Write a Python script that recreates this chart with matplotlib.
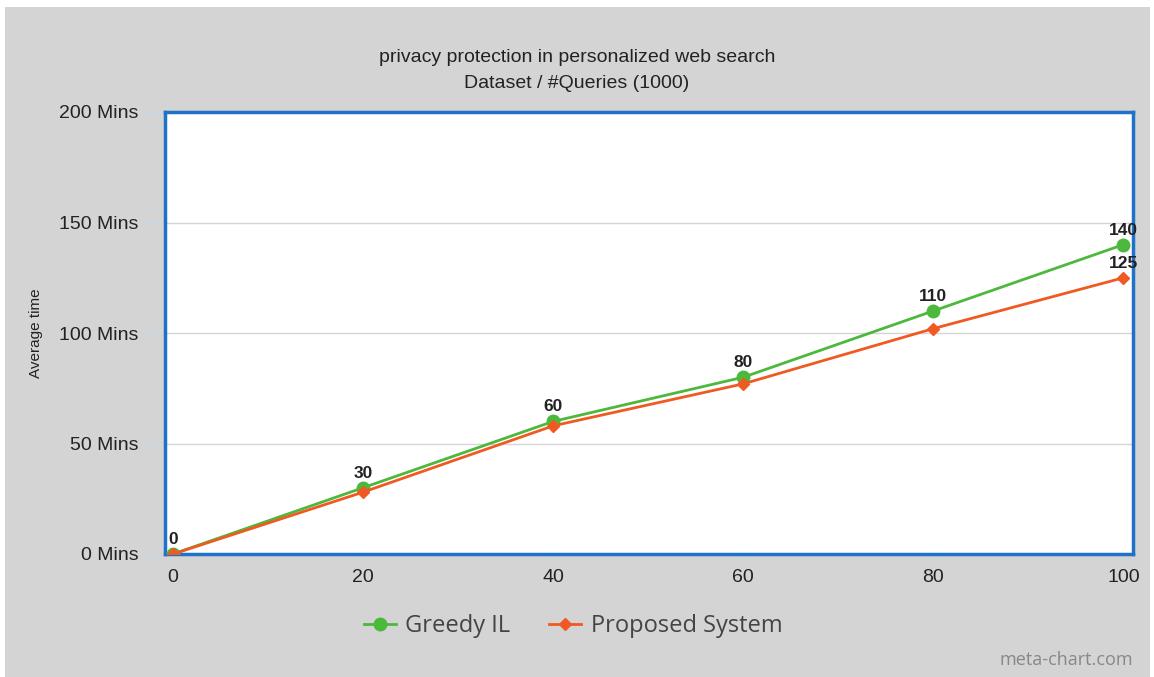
import matplotlib.pyplot as plt
from matplotlib.patches import Rectangle

# data
queries = [0, 20, 40, 60, 80, 100]
greedy_il = [0, 30, 60, 80, 110, 140]
proposed = [0, 28, 58, 77, 102, 125]
y_ticks = [0, 50, 100, 150, 200]
y_labels = ['%d Mins' % v for v in y_ticks]

GREEN = '#4cb83c'
ORANGE = '#f05a22'
BLUE = '#1f72c9'
PANEL = '#d3d4d3'

fig = plt.figure(figsize=(11.54, 6.77), dpi=100)
fig.patch.set_facecolor('white')
# grey panel behind everything
fig.patches.append(Rectangle((5 / 1154, 0), 1145 / 1154, 670 / 677,
                             transform=fig.transFigure, facecolor=PANEL,
                             edgecolor='none', zorder=-10))

ax = fig.add_axes([165 / 1154, 123 / 677, 968 / 1154, 442 / 677])
ax.set_facecolor('white')

ax.plot(queries, greedy_il, color=GREEN, lw=2, marker='o', ms=9,
        label='Greedy IL', zorder=3)
ax.plot(queries, proposed, color=ORANGE, lw=2, marker='D', ms=6,
        label='Proposed System', zorder=4)

for x, y in zip(queries, greedy_il):
    ax.annotate(str(y), (x, y), xytext=(0, 5), textcoords='offset points',
                ha='center', va='bottom', fontsize=12.5, fontweight='bold',
                color='#222222', family='Liberation Sans')
ax.annotate(str(proposed[-1]), (queries[-1], proposed[-1]), xytext=(0, 5),
            textcoords='offset points', ha='center', va='bottom',
            fontsize=12.5, fontweight='bold', color='#222222',
            family='Liberation Sans')

ax.set_xlim(-0.85, 101)
ax.set_ylim(0, 200)
ax.set_xticks(queries)
ax.set_yticks(y_ticks)
ax.set_yticklabels(y_labels)
ax.tick_params(axis='both', colors='#c6d9ec', labelcolor='#222222',
               labelsize=14, length=16, width=1)
ax.tick_params(axis='x', length=6, pad=5)
ax.tick_params(axis='y', pad=3)
for lbl in ax.get_xticklabels() + ax.get_yticklabels():
    lbl.set_family('Liberation Sans')

ax.grid(axis='y', color='#d5d5d5', lw=1)
ax.set_axisbelow(True)
for s in ax.spines.values():
    s.set_color(BLUE)
    s.set_linewidth(2.5)

ax.set_ylabel('Average time', fontsize=11, family='Liberation Sans',
              color='#222222', labelpad=12)

fig.text(0.5, 1 - 58 / 677, 'privacy protection in personalized web search',
         ha='center', va='center', fontsize=14, family='Liberation Sans',
         color='#222222')
fig.text(0.5, 1 - 84 / 677, 'Dataset / #Queries (1000)', ha='center',
         va='center', fontsize=14, family='Liberation Sans', color='#222222')

fig.legend(loc='center', bbox_to_anchor=(573 / 1154, 1 - 626 / 677), ncol=2,
           frameon=False, columnspacing=1.65, handlelength=1.35,
           handletextpad=0.4, prop={'family': 'Open Sans', 'size': 17})
for t in fig.legends[0].get_texts():
    t.set_color('#444444')

fig.text(1133 / 1154, 1 - 660 / 677, 'meta-chart.com', ha='right', va='center',
         fontsize=13, family='Open Sans', color='#888888')

fig.savefig('out.png', dpi=100)
